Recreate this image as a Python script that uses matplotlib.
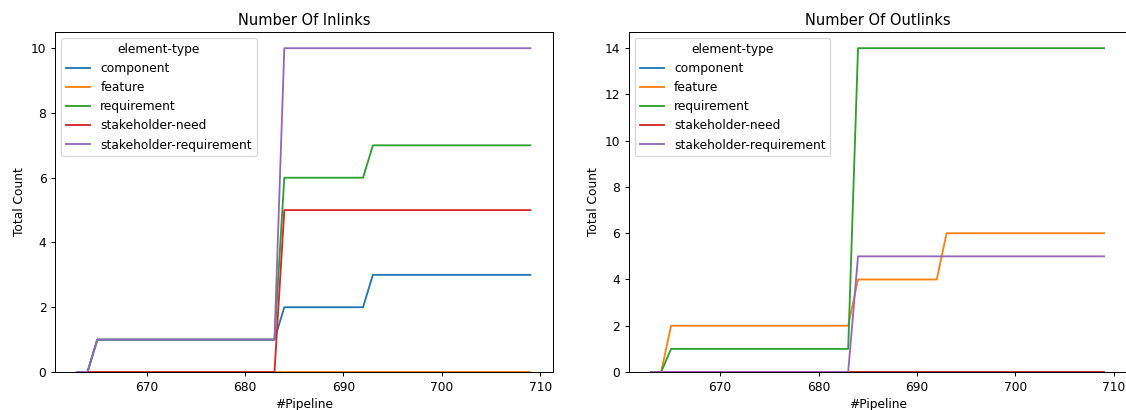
import matplotlib
matplotlib.use("Agg")
import matplotlib.pyplot as plt
import numpy as np

pipelines = list(range(663, 710))
categories = ["component", "feature", "requirement", "stakeholder-need", "stakeholder-requirement"]
colors = ["#1f77b4", "#ff7f0e", "#2ca02c", "#d62728", "#9467bd"]

def steps(segments):
    out = []
    for value, count in segments:
        out += [value] * count
    return out

# segments: (value, number of pipelines) covering 663..709 (47 pipelines)
inlinks = {
    "component": steps([(0, 2), (1, 19), (2, 9), (3, 17)]),
    "feature": steps([(0, 47)]),
    "requirement": steps([(0, 2), (1, 19), (6, 9), (7, 17)]),
    "stakeholder-need": steps([(0, 21), (5, 26)]),
    "stakeholder-requirement": steps([(0, 2), (1, 19), (10, 26)]),
}
outlinks = {
    "component": steps([(0, 47)]),
    "feature": steps([(0, 2), (2, 19), (4, 9), (6, 17)]),
    "requirement": steps([(0, 2), (1, 19), (14, 26)]),
    "stakeholder-need": steps([(0, 47)]),
    "stakeholder-requirement": steps([(0, 21), (5, 26)]),
}

DPI = 88
W, H = 1126, 410
fig = plt.figure(figsize=(W / DPI, H / DPI), dpi=DPI)
ax1 = fig.add_axes([55 / W, (H - 372) / H, 498 / W, 340 / H])
ax2 = fig.add_axes([628.7 / W, (H - 372) / H, 498 / W, 340 / H])

for ax, data, title in [(ax1, inlinks, "Number Of Inlinks"), (ax2, outlinks, "Number Of Outlinks")]:
    for cat, col in zip(categories, colors):
        ax.plot(pipelines, data[cat], color=col, label=cat, linewidth=1.5)
    ax.set_ylim(bottom=0)
    ax.set_title(title)
    ax.set_xlabel("#Pipeline")
    ax.set_ylabel("Total Count")
    ax.legend(title="element-type", loc="upper left")

fig.savefig("out.png", dpi=DPI)
